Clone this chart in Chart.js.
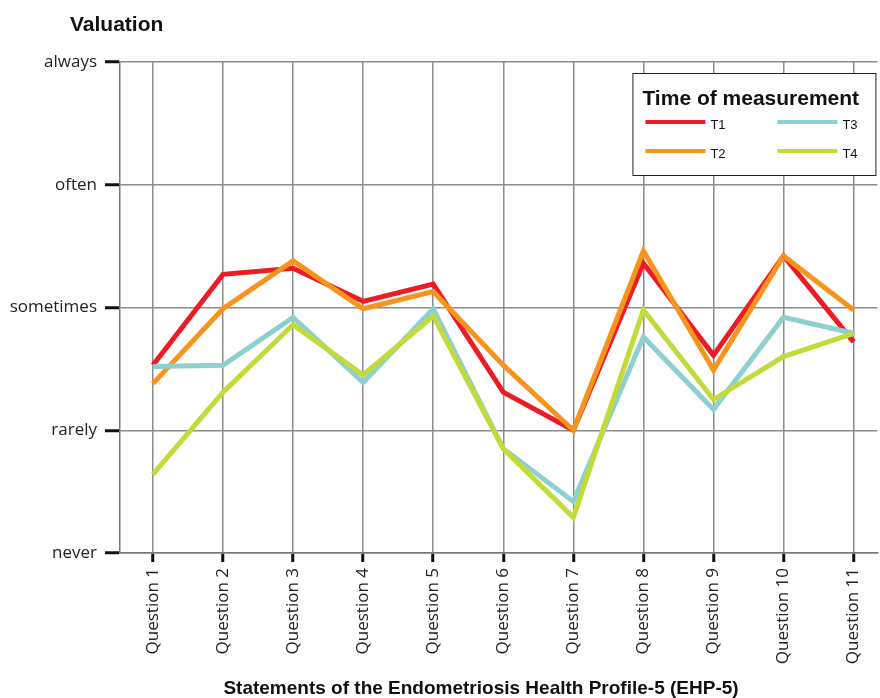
<!DOCTYPE html>
<html>
<head>
<meta charset="utf-8">
<script src="https://cdn.jsdelivr.net/npm/chart.js@4/dist/chart.umd.min.js"></script>
<style>
  body { margin: 0; background: #fff; }
  #wrap { width: 880px; height: 698px; }
</style>
</head>
<body>
<div id="wrap"><canvas id="ehpChart" width="880" height="698"></canvas></div>
<script>
// values: 0 = never ... 4 = always
const categories = ['Question 1', 'Question 2', 'Question 3', 'Question 4', 'Question 5', 'Question 6',
    'Question 7', 'Question 8', 'Question 9', 'Question 10', 'Question 11'];
const levels = ['never', 'rarely', 'sometimes', 'often', 'always'];
const seriesNames = ['T1', 'T2', 'T3', 'T4'];
const t1 = [1.53, 2.27, 2.32, 2.05, 2.19, 1.31, 1.00, 2.36, 1.61, 2.42, 1.72];
const t2 = [1.38, 1.99, 2.38, 1.99, 2.13, 1.53, 1.00, 2.46, 1.49, 2.42, 1.98];
const t3 = [1.52, 1.53, 1.92, 1.39, 1.99, 0.85, 0.42, 1.76, 1.17, 1.92, 1.79];
const t4 = [0.64, 1.31, 1.86, 1.45, 1.93, 0.85, 0.29, 1.98, 1.25, 1.60, 1.79];
const colors = ['#ed1c24', '#f7941d', '#8ecfd0', '#c2da3a'];

const toPoints = arr => arr.map((v, i) => ({x: i + 1, y: v}));

const datasets = [t1, t2, t3, t4].map((arr, i) => ({
    label: seriesNames[i],
    data: toPoints(arr),
    borderColor: colors[i],
    backgroundColor: colors[i],
    borderWidth: 5,
    pointRadius: 0,
    tension: 0,
    borderJoinStyle: 'miter',
    fill: false,
    order: 4 - i // later series on top
}));

// titles + boxed legend drawn on the canvas
const extraText = {
    id: 'extraText',
    afterDraw(chart) {
        const ctx = chart.ctx;
        const area = chart.chartArea;
        ctx.save();
        ctx.fillStyle = '#111';
        ctx.textBaseline = 'alphabetic';
        ctx.textAlign = 'left';
        ctx.font = 'bold 21px "Liberation Sans", Arial, sans-serif';
        ctx.fillText('Valuation', area.left - 50, area.top - 31);

        ctx.textAlign = 'center';
        ctx.font = 'bold 19px "Liberation Sans", Arial, sans-serif';
        ctx.fillText('Statements of the Endometriosis Health Profile-5 (EHP-5)', 481, chart.height - 4);

        // legend box
        const bx = area.right - 245, by = area.top + 11, bw = 243, bh = 102;
        ctx.fillStyle = '#fff';
        ctx.fillRect(bx, by, bw, bh);
        ctx.strokeStyle = '#222';
        ctx.lineWidth = 1;
        ctx.strokeRect(bx + 0.5, by + 0.5, bw, bh);
        ctx.fillStyle = '#111';
        ctx.textAlign = 'left';
        ctx.font = 'bold 21px "Liberation Sans", Arial, sans-serif';
        ctx.fillText('Time of measurement', bx + 10, by + 32);

        const slots = [[0, 0], [0, 1], [1, 0], [1, 1]]; // T1, T2 left; T3, T4 right
        ctx.font = '13px "Liberation Sans", Arial, sans-serif';
        ctx.textBaseline = 'middle';
        chart.data.datasets.forEach((ds, i) => {
            const lx = bx + 13 + slots[i][0] * 132;
            const ly = by + 49 + slots[i][1] * 29;
            ctx.strokeStyle = ds.borderColor;
            ctx.lineWidth = 4;
            ctx.beginPath();
            ctx.moveTo(lx, ly);
            ctx.lineTo(lx + 60, ly);
            ctx.stroke();
            ctx.fillStyle = '#111';
            ctx.fillText(ds.label, lx + 65, ly + 3);
        });
        ctx.restore();
    }
};

const ctx = document.getElementById('ehpChart').getContext('2d');
const ehpChart = new Chart(ctx, {
    type: 'line',
    data: {datasets: datasets},
    options: {
        responsive: false,
        animation: false,
        layout: {padding: {top: 62, right: 0, bottom: 0, left: 0}},
        plugins: {
            legend: {display: false},
            tooltip: {enabled: false}
        },
        scales: {
            x: {
                type: 'linear',
                min: 0.53,
                max: 11.34,
                afterBuildTicks: s => { s.ticks = categories.map((c, i) => ({value: i + 1})); },
                afterFit: s => { s.height = 145; },
                grid: {color: '#8c8c8c', lineWidth: 1.5, tickColor: '#111', tickWidth: 3, tickLength: 9},
                border: {color: '#777', width: 1.5},
                ticks: {
                    minRotation: 90,
                    maxRotation: 90,
                    autoSkip: false,
                    padding: 6,
                    color: '#222',
                    font: {family: '"Open Sans", sans-serif', size: 17},
                    callback: v => categories[v - 1]
                }
            },
            y: {
                min: 0,
                max: 4,
                afterBuildTicks: s => { s.ticks = levels.map((l, i) => ({value: i})); },
                afterFit: s => { s.width = 120; },
                grid: {color: '#8c8c8c', lineWidth: 1.5, tickColor: '#111', tickWidth: 3, tickLength: 15},
                border: {color: '#777', width: 1.5},
                ticks: {
                    padding: 8,
                    color: '#222',
                    font: {family: '"Open Sans", sans-serif', size: 17},
                    callback: v => levels[v]
                }
            }
        }
    },
    plugins: [extraText]
});
</script>
</body>
</html>
